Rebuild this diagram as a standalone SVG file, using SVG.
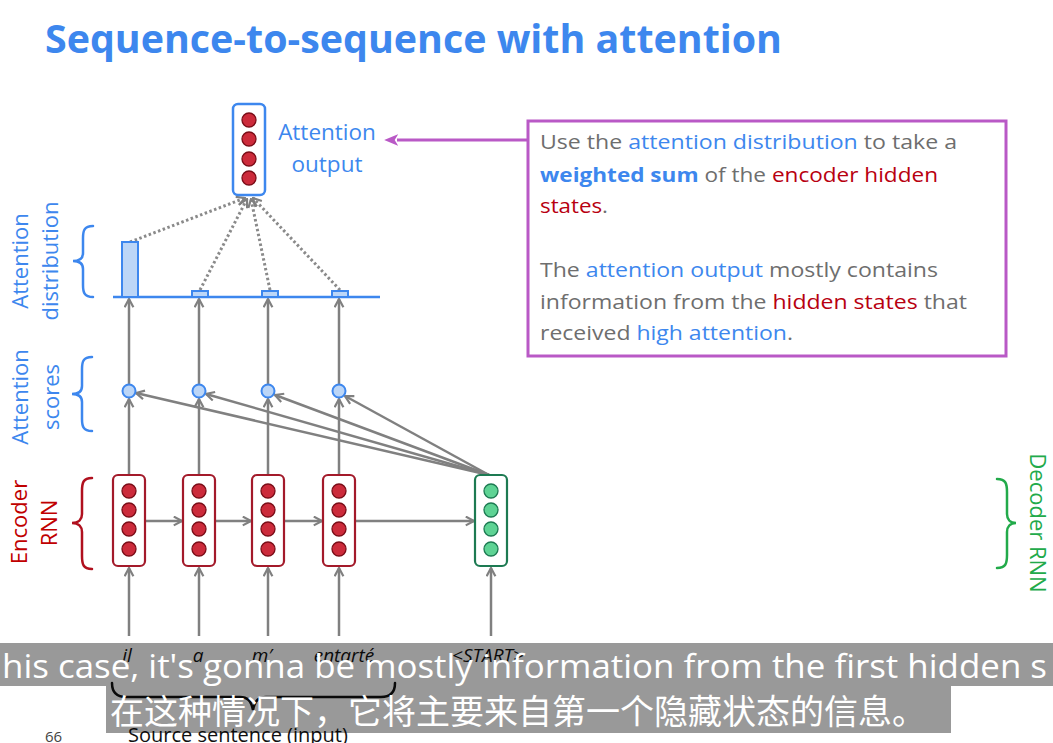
<svg xmlns="http://www.w3.org/2000/svg" width="1053" height="743" viewBox="0 0 1053 743">
<style>
.t{font-family:"Open Sans","Noto Sans","Liberation Sans",sans-serif}
.blue{fill:#3d87ee}
.red{fill:#b80010}
.grey{fill:#6e6e6e}
.conn{stroke:#808080;stroke-width:2.5;fill:none}
.dot{stroke:#8a8a8a;stroke-width:3;fill:none;stroke-dasharray:2.5 2.5}
.brace{fill:none;stroke-width:2.5;stroke-linecap:round}
.rbox{fill:#fff;stroke:#a31a2a;stroke-width:2.2}
.gbox{fill:#fff;stroke:#1d7a52;stroke-width:2.2}
.bbox{fill:#fff;stroke:#3d87ee;stroke-width:2.5}
.rc{fill:#cc2b3b;stroke:#7a0d17;stroke-width:1.3}
.gc{fill:#5ed394;stroke:#1d7a52;stroke-width:1.3}
.sc{fill:#bcd6f7;stroke:#3d87ee;stroke-width:2}
.bar{fill:#bcd6f7;stroke:#3d87ee;stroke-width:2}
.word{font-family:"Open Sans","Liberation Sans",sans-serif;font-style:italic;font-size:19px;fill:#111;text-anchor:middle}
</style>
<defs>
<marker id="ah" viewBox="0 0 10 10" refX="9" refY="5" markerWidth="11" markerHeight="11" markerUnits="userSpaceOnUse" orient="auto">
<path d="M1.5,1 L9,5 L1.5,9" fill="none" stroke="#808080" stroke-width="2"/>
</marker>
<marker id="ahp" viewBox="0 0 12 10" refX="1" refY="5" markerWidth="14" markerHeight="12" markerUnits="userSpaceOnUse" orient="auto-start-reverse">
<path d="M12,5 L0,0 L3,5 L0,10 Z" fill="#b959c6"/>
</marker>
</defs>
<rect width="1053" height="743" fill="#fff"/>

<text class="t" x="45" y="53" font-size="40" font-weight="700" fill="#3d87ee" textLength="737" lengthAdjust="spacingAndGlyphs">Sequence-to-sequence with attention</text>

<!-- side labels -->
<g id="label-distribution" class="t blue" font-size="22" text-anchor="middle">
<text transform="translate(28,261) rotate(-90)">Attention</text>
<text transform="translate(58,261) rotate(-90)">distribution</text>
<path class="brace" stroke="#3d87ee" d="M93,226 C84,226 83,231 83,238 L83,253 C83,258 80,261 73,261 C80,261 83,264 83,269 L83,285 C83,292 84,297 93,297"/>
</g>
<g id="label-scores" class="t blue" font-size="22" text-anchor="middle">
<text transform="translate(28,397) rotate(-90)">Attention</text>
<text transform="translate(59,397) rotate(-90)">scores</text>
<path class="brace" stroke="#3d87ee" d="M92,357 C83,357 82,362 82,369 L82,386 C82,391 79,394 72,394 C79,394 82,397 82,402 L82,419 C82,426 83,431 92,431"/>
</g>
<g id="label-encoder" class="t" font-size="22" text-anchor="middle" fill="#c00000">
<text transform="translate(27,522) rotate(-90)">Encoder</text>
<text transform="translate(57,523) rotate(-90)">RNN</text>
<path class="brace" stroke="#b0101e" d="M92,478 C83,478 82,483 82,491 L82,514 C82,519 79,523 72,523 C79,523 82,527 82,532 L82,556 C82,564 83,569 92,569"/>
</g>
<g id="label-decoder" class="t" font-size="22" text-anchor="middle" fill="#22aa4a">
<text transform="translate(1030,523) rotate(90)">Decoder RNN</text>
<path class="brace" stroke="#22aa4a" d="M997,479 C1006,479 1007,484 1007,492 L1007,514 C1007,519 1010,523 1016,523 C1010,523 1007,527 1007,532 L1007,555 C1007,563 1006,568 997,568"/>
</g>

<!-- connectors -->
<g id="connectors">
<line class="conn" x1="129" y1="636" x2="129" y2="568" marker-end="url(#ah)"/>
<line class="conn" x1="199" y1="636" x2="199" y2="568" marker-end="url(#ah)"/>
<line class="conn" x1="268" y1="636" x2="268" y2="568" marker-end="url(#ah)"/>
<line class="conn" x1="339" y1="636" x2="339" y2="568" marker-end="url(#ah)"/>
<line class="conn" x1="491" y1="636" x2="491" y2="568" marker-end="url(#ah)"/>
<line class="conn" x1="145" y1="521" x2="182" y2="521" marker-end="url(#ah)"/>
<line class="conn" x1="215" y1="521" x2="251" y2="521" marker-end="url(#ah)"/>
<line class="conn" x1="284" y1="521" x2="322" y2="521" marker-end="url(#ah)"/>
<line class="conn" x1="355" y1="521" x2="474" y2="521" marker-end="url(#ah)"/>
<line class="conn" x1="129" y1="475" x2="129" y2="399" marker-end="url(#ah)"/>
<line class="conn" x1="199" y1="475" x2="199" y2="399" marker-end="url(#ah)"/>
<line class="conn" x1="268" y1="475" x2="268" y2="399" marker-end="url(#ah)"/>
<line class="conn" x1="339" y1="475" x2="339" y2="399" marker-end="url(#ah)"/>
<line class="conn" x1="489" y1="475" x2="136" y2="393" marker-end="url(#ah)"/>
<line class="conn" x1="489" y1="475" x2="206" y2="394" marker-end="url(#ah)"/>
<line class="conn" x1="489" y1="475" x2="275" y2="395" marker-end="url(#ah)"/>
<line class="conn" x1="489" y1="475" x2="345" y2="396" marker-end="url(#ah)"/>
<line class="conn" x1="129" y1="384" x2="129" y2="299" marker-end="url(#ah)"/>
<line class="conn" x1="199" y1="384" x2="199" y2="299" marker-end="url(#ah)"/>
<line class="conn" x1="268" y1="384" x2="268" y2="299" marker-end="url(#ah)"/>
<line class="conn" x1="339" y1="384" x2="339" y2="299" marker-end="url(#ah)"/>
<line class="dot" x1="130" y1="242" x2="245" y2="198" marker-end="url(#ah)"/>
<line class="dot" x1="200" y1="290" x2="247" y2="199" marker-end="url(#ah)"/>
<line class="dot" x1="270" y1="290" x2="251" y2="199" marker-end="url(#ah)"/>
<line class="dot" x1="340" y1="290" x2="253" y2="198" marker-end="url(#ah)"/>
<line x1="527" y1="140" x2="397" y2="140" stroke="#b959c6" stroke-width="3" marker-end="url(#ahp)"/>
</g>

<g id="attention-distribution">
<line x1="113" y1="297" x2="380" y2="297" stroke="#3d87ee" stroke-width="2.5"/>
<rect class="bar" x="122" y="242" width="16" height="55"/>
<rect class="bar" x="192" y="291" width="16" height="6"/>
<rect class="bar" x="262" y="291" width="16" height="6"/>
<rect class="bar" x="332" y="291" width="16" height="6"/>
</g>

<g id="attention-scores">
<circle class="sc" cx="129" cy="391" r="6.5"/>
<circle class="sc" cx="199" cy="391" r="6.5"/>
<circle class="sc" cx="268" cy="391" r="6.5"/>
<circle class="sc" cx="339" cy="391" r="6.5"/>
</g>

<g id="attention-output">
<rect class="bbox" x="233" y="104" width="32" height="91" rx="5"/>
<circle class="rc" cx="249" cy="120" r="7"/>
<circle class="rc" cx="249" cy="139" r="7"/>
<circle class="rc" cx="249" cy="159" r="7"/>
<circle class="rc" cx="249" cy="178" r="7"/>
<text class="t blue" x="327" y="140" font-size="22.5" text-anchor="middle">Attention</text>
<text class="t blue" x="327" y="172" font-size="22.5" text-anchor="middle">output</text>
</g>

<g id="enc1"><rect class="rbox" x="113" y="475" width="32" height="91" rx="5"/>
<circle class="rc" cx="129" cy="491" r="7"/><circle class="rc" cx="129" cy="510" r="7"/><circle class="rc" cx="129" cy="529" r="7"/><circle class="rc" cx="129" cy="549" r="7"/></g>
<g id="enc2"><rect class="rbox" x="183" y="475" width="32" height="91" rx="5"/>
<circle class="rc" cx="199" cy="491" r="7"/><circle class="rc" cx="199" cy="510" r="7"/><circle class="rc" cx="199" cy="529" r="7"/><circle class="rc" cx="199" cy="549" r="7"/></g>
<g id="enc3"><rect class="rbox" x="252" y="475" width="32" height="91" rx="5"/>
<circle class="rc" cx="268" cy="491" r="7"/><circle class="rc" cx="268" cy="510" r="7"/><circle class="rc" cx="268" cy="529" r="7"/><circle class="rc" cx="268" cy="549" r="7"/></g>
<g id="enc4"><rect class="rbox" x="323" y="475" width="32" height="91" rx="5"/>
<circle class="rc" cx="339" cy="491" r="7"/><circle class="rc" cx="339" cy="510" r="7"/><circle class="rc" cx="339" cy="529" r="7"/><circle class="rc" cx="339" cy="549" r="7"/></g>
<g id="dec1"><rect class="gbox" x="475" y="475" width="32" height="91" rx="5"/>
<circle class="gc" cx="491" cy="491" r="7"/><circle class="gc" cx="491" cy="510" r="7"/><circle class="gc" cx="491" cy="529" r="7"/><circle class="gc" cx="491" cy="549" r="7"/></g>

<g id="callout" class="t" font-size="20">
<rect x="528" y="121" width="478" height="235" fill="#fff" stroke="#b959c6" stroke-width="3"/>
<text x="540" y="149" textLength="417" lengthAdjust="spacingAndGlyphs" class="grey">Use the <tspan class="blue">attention distribution</tspan> to take a</text>
<text x="540" y="182" textLength="398" lengthAdjust="spacingAndGlyphs" class="grey"><tspan class="blue" font-weight="700">weighted sum</tspan> of the <tspan class="red">encoder hidden</tspan></text>
<text x="540" y="213" textLength="68" lengthAdjust="spacingAndGlyphs" class="grey"><tspan class="red">states</tspan>.</text>
<text x="540" y="277" textLength="398" lengthAdjust="spacingAndGlyphs" class="grey">The <tspan class="blue">attention output</tspan> mostly contains</text>
<text x="540" y="309" textLength="427" lengthAdjust="spacingAndGlyphs" class="grey">information from the <tspan class="red">hidden states</tspan> that</text>
<text x="540" y="340" textLength="253" lengthAdjust="spacingAndGlyphs" class="grey">received <tspan class="blue">high attention</tspan>.</text>
</g>

<g id="source">
<text class="word" x="127" y="662">il</text>
<text class="word" x="198" y="662">a</text>
<text class="word" x="262" y="662">m′</text>
<text class="word" x="344" y="662">entarté</text>
<text class="word" x="488" y="662">&lt;START&gt;</text>
<path class="brace" stroke="#111" d="M112,683 C112,692 116,697 126,697 L240,697 C247,697 251,700 253,710 C255,700 259,697 266,697 L381,697 C391,697 395,692 395,683"/>
<text class="t" x="128" y="742" font-size="20" fill="#111">Source sentence (input)</text>
<text class="t" x="45" y="742" font-size="15" fill="#444">66</text>
</g>

<g id="subtitles">
<rect x="0" y="643" width="1053" height="43" fill="#000" fill-opacity="0.4"/>
<rect x="106" y="686" width="845" height="47" fill="#000" fill-opacity="0.4"/>
<text class="t" x="2" y="678" font-size="33" fill="#fff" textLength="1045" lengthAdjust="spacingAndGlyphs">his case, it's gonna be mostly information from the first hidden s</text>
<text x="110" y="724" font-size="34" fill="#fff" font-family="'Noto Sans CJK SC',sans-serif" textLength="816" lengthAdjust="spacingAndGlyphs">在这种情况下，它将主要来自第一个隐藏状态的信息。</text>
</g>
</svg>
